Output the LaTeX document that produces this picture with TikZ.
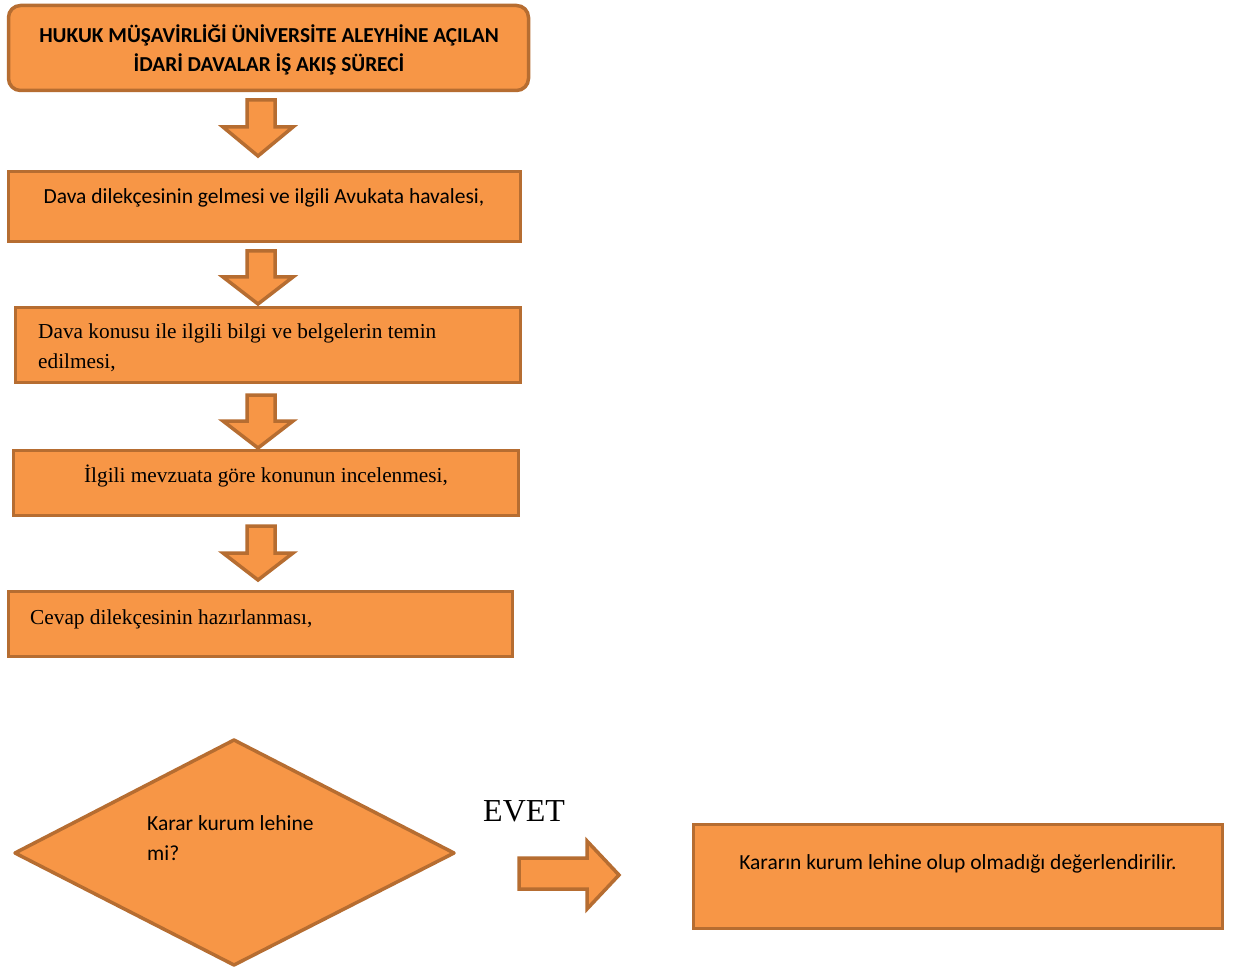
\documentclass[tikz,border=0pt]{standalone}
\usepackage{fontspec}
\setmainfont{Liberation Serif}
\newfontfamily\calib{Carlito}
\definecolor{ofill}{HTML}{F79646}
\definecolor{oline}{HTML}{B66D31}
\tikzset{
  box/.style={draw=oline, fill=ofill, line width=3.5pt, rectangle, anchor=north west, inner sep=0pt, outer sep=0pt},
  blockarrow/.style={draw=oline, fill=ofill, line width=3.5pt, line join=miter},
  caltext/.style={font=\calib\fontsize{21.5}{29}\selectfont, inner sep=0pt, text=black},
  timestext/.style={font=\fontsize{21.3}{29}\selectfont, inner sep=0pt, text=black},
}
\begin{document}
\begin{tikzpicture}[x=1pt,y=-1pt]
\useasboundingbox[fill=white] (0,0) rectangle (1248,968);
% title
\node[box, rounded corners=12pt, minimum width=520pt, minimum height=85pt] (title) at (8.5,5.5) {};
\node[caltext, font=\calib\bfseries\fontsize{21.3}{29}\selectfont, align=center] (titletxt) at (269,49.5) {HUKUK MÜŞAVİRLİĞİ ÜNİVERSİTE ALEYHİNE AÇILAN\\İDARİ DAVALAR İŞ AKIŞ SÜRECİ};
% arrow 1
\draw[blockarrow] (247,100) -- (275,100) -- (275,127) -- (293,127) -- (258,156) -- (223,127) -- (247,127) -- cycle;
% box 2
\node[box, minimum width=512pt, minimum height=70pt] (b2) at (8.5,171.5) {};
\node[caltext, anchor=base] (b2t) at (264,204) {Dava dilekçesinin gelmesi ve ilgili Avukata havalesi,};
% arrow 2
\draw[blockarrow] (247,251) -- (275,251) -- (275,277) -- (293,277) -- (258,304) -- (223,277) -- (247,277) -- cycle;
% box 3
\node[box, minimum width=505pt, minimum height=75pt] (b3) at (15.5,307.5) {};
\node[timestext, anchor=base west, align=left] (b3t) at (38,368) {Dava konusu ile ilgili bilgi ve belgelerin temin\\edilmesi,};
% arrow 3
\draw[blockarrow] (247,395) -- (275,395) -- (275,421) -- (293,421) -- (258,448) -- (223,421) -- (247,421) -- cycle;
% box 4
\node[box, minimum width=505pt, minimum height=65pt] (b4) at (13.5,450.5) {};
\node[timestext, anchor=base] (b4t) at (266,482) {İlgili mevzuata göre konunun incelenmesi,};
% arrow 4
\draw[blockarrow] (247,526) -- (275,526) -- (275,553) -- (293,553) -- (258,580) -- (223,553) -- (247,553) -- cycle;
% box 5
\node[box, minimum width=504pt, minimum height=65pt] (b5) at (8.5,591.5) {};
\node[timestext, anchor=base west] (b5t) at (30,624) {Cevap dilekçesinin hazırlanması,};
% diamond
\draw[blockarrow, line join=round] (234,740) -- (454,853) -- (234,965) -- (15,853) -- cycle;
\coordinate (dia) at (234,853);
\node[caltext, anchor=base west, align=left, font=\calib\fontsize{21.5}{30}\selectfont] (diat) at (147,860) {Karar kurum lehine\\mi?};
% EVET
\node[inner sep=0pt, font=\fontsize{32}{36}\selectfont, anchor=base west] (evet) at (483,821) {EVET};
% right arrow
\draw[blockarrow] (519,858) -- (587,858) -- (587,841) -- (619,875) -- (587,909) -- (587,889) -- (519,889) -- cycle;
% box 6
\node[box, minimum width=529pt, minimum height=104pt] (b6) at (693.5,824.5) {};
\node[caltext, anchor=base] (b6t) at (958,869) {Kararın kurum lehine olup olmadığı değerlendirilir.};
\end{tikzpicture}
\end{document}
